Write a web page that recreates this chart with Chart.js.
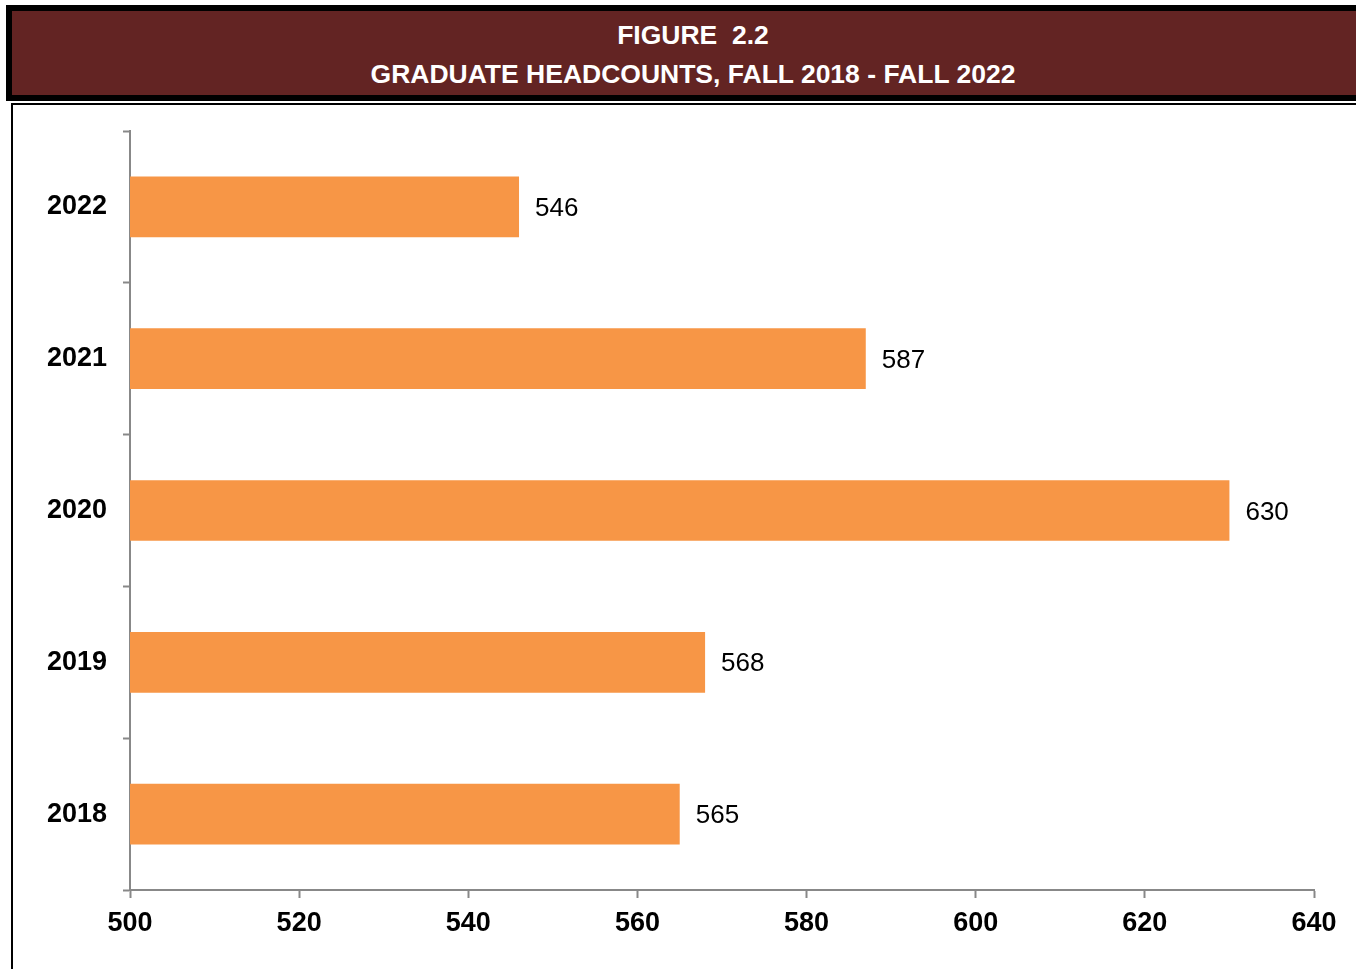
<!DOCTYPE html>
<html>
<head>
<meta charset="utf-8">
<script src="https://cdn.jsdelivr.net/npm/chart.js@4.4.0/dist/chart.umd.min.js"></script>
<style>
  body { margin: 0; background: #fff; width: 1356px; height: 969px; overflow: hidden; position: relative; font-family: "Liberation Sans", Arial, sans-serif; }
  #header { position: absolute; left: 6px; top: 5px; width: 1400px; height: 84px; border: 6px solid #000; background: #632423; color: #fff; }
  #header .t { position: absolute; left: 0; width: 1362px; text-align: center; font-weight: bold; font-size: 26.5px; }
  #box { position: absolute; left: 11px; top: 103px; width: 1400px; height: 900px; border: 2px solid #000; }
  #wrap { position: absolute; left: 0; top: 0; width: 1356px; height: 969px; }
</style>
</head>
<body>
<div id="header">
  <div class="t" style="top:9px">FIGURE&nbsp;&nbsp;2.2</div>
  <div class="t" style="top:48px">GRADUATE HEADCOUNTS, FALL 2018 - FALL 2022</div>
</div>
<div id="box"></div>
<div id="wrap"><canvas id="headcount-chart"></canvas></div>
<script>
// Chart data
var years = ['2022', '2021', '2020', '2019', '2018'];
var headcounts = [546, 587, 630, 568, 565];
var xTicks = [500, 520, 540, 560, 580, 600, 620, 640];

// Plugin to write the value at the end of each bar
var barValueLabels = {
  id: 'barValueLabels',
  afterDatasetsDraw: function(chart) {
    var ctx = chart.ctx;
    var meta = chart.getDatasetMeta(0);
    ctx.save();
    ctx.font = '26px "Liberation Sans", Arial, sans-serif';
    ctx.fillStyle = '#000';
    ctx.textAlign = 'left';
    ctx.textBaseline = 'middle';
    meta.data.forEach(function(bar, i) {
      ctx.fillText(String(headcounts[i]), bar.x + 16, bar.y + 2);
    });
    ctx.restore();
  }
};

var ctx = document.getElementById('headcount-chart').getContext('2d');
var headcountChart = new Chart(ctx, {
  type: 'bar',
  data: {
    labels: years,
    datasets: [{
      label: 'Graduate Headcount',
      data: headcounts,
      backgroundColor: '#F79646',
      borderWidth: 0,
      barPercentage: 0.4,
      categoryPercentage: 1.0
    }]
  },
  options: {
    indexAxis: 'y',
    responsive: true,
    maintainAspectRatio: false,
    animation: false,
    layout: { padding: { left: 0, right: 42, top: 131, bottom: 0 } },
    plugins: {
      legend: { display: false },
      tooltip: { enabled: false }
    },
    scales: {
      x: {
        min: 500,
        max: 640,
        afterBuildTicks: function(scale) {
          scale.ticks = xTicks.map(function(v) { return { value: v }; });
        },
        afterFit: function(scale) { scale.height = 79; },
        grid: { drawOnChartArea: false, tickLength: 8, tickWidth: 2, color: '#888' },
        border: { color: '#888', width: 2 },
        ticks: {
          color: '#000',
          padding: 9,
          font: { family: '"Liberation Sans", Arial, sans-serif', size: 27, weight: 'bold' }
        }
      },
      y: {
        afterFit: function(scale) { scale.width = 130; },
        grid: { drawOnChartArea: false, tickLength: 7, tickWidth: 2, color: '#888', offset: true },
        border: { color: '#888', width: 2 },
        ticks: {
          color: '#000',
          padding: 16,
          font: { family: '"Liberation Sans", Arial, sans-serif', size: 27, weight: 'bold' }
        }
      }
    }
  },
  plugins: [barValueLabels]
});
</script>
</body>
</html>
